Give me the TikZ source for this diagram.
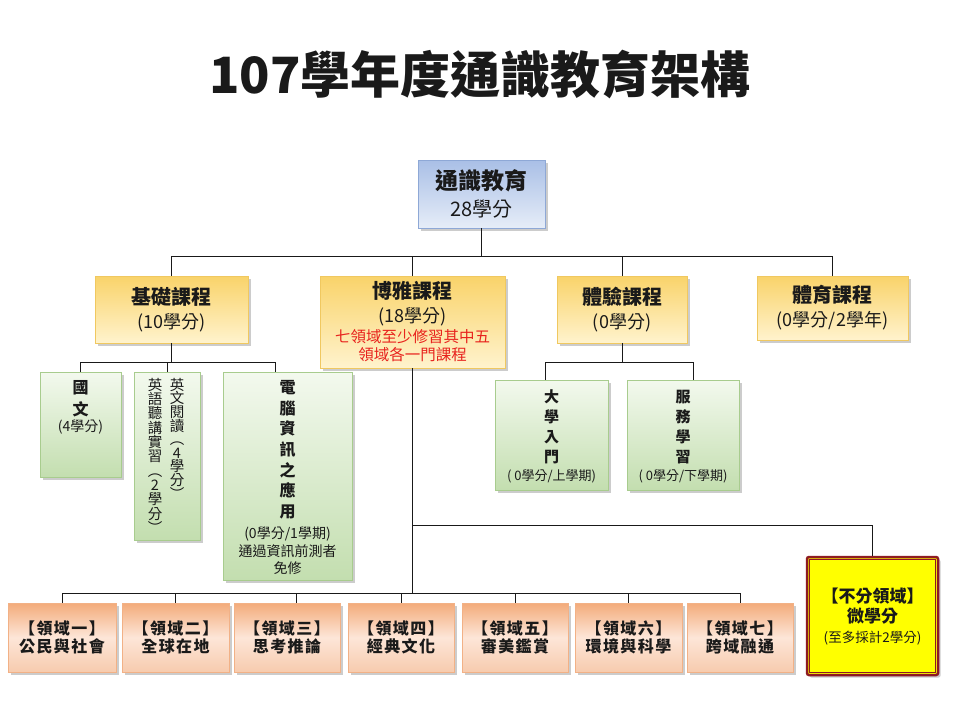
\documentclass[tikz,border=0pt]{standalone}
\usepackage{fontspec}
\setmainfont{Noto Sans CJK TC}
\usetikzlibrary{shadows,calc}
\definecolor{bluetop}{HTML}{A9BFE6}
\definecolor{bluebot}{HTML}{E6EDF8}
\definecolor{blueline}{HTML}{8EA8D6}
\definecolor{yeltop}{HTML}{F9D36A}
\definecolor{yelbot}{HTML}{FFF3CD}
\definecolor{yelline}{HTML}{F0C860}
\definecolor{grntop}{HTML}{F3F9EE}
\definecolor{grnbot}{HTML}{C3DEAF}
\definecolor{grnline}{HTML}{A8CC8E}
\definecolor{orgtop}{HTML}{F3AB7A}
\definecolor{orgmid}{HTML}{FDE6D8}
\definecolor{orgbot}{HTML}{F7CBAE}
\definecolor{orgline}{HTML}{F2B186}
\definecolor{redtxt}{HTML}{E8231E}
\definecolor{wxred}{HTML}{8E1B22}
\definecolor{wxyel}{HTML}{FFFF00}
\definecolor{txt}{HTML}{1A1A1A}
\begin{document}
\begin{tikzpicture}[x=1pt,y=-1pt,
  conn/.style={draw=black!90, line width=0.8pt},
  boxbase/.style={rectangle, inner sep=1pt, line width=0.6pt, align=center, text=txt,
    drop shadow={shadow xshift=2.5pt, shadow yshift=-2.5pt, fill=black!50, opacity=0.4}},
  bluebox/.style={boxbase, draw=blueline, top color=bluetop, bottom color=bluebot},
  yelbox/.style={boxbase, draw=yelline, top color=yeltop, bottom color=yelbot},
  grnbox/.style={boxbase, draw=grnline, top color=grntop, bottom color=grnbot},
  orgbox/.style={boxbase, draw=orgline, top color=orgtop, bottom color=orgbot, middle color=orgmid,
    minimum width=106, minimum height=69, font=\fontsize{16}{18}\selectfont\bfseries\addfontfeature{LetterSpace=9}},
  wxbox/.style={rectangle, rounded corners=2pt, draw=wxred, line width=2.5pt, fill=wxyel, align=center,
    text=txt, drop shadow={shadow xshift=2.5pt, shadow yshift=-2.5pt, fill=black!50, opacity=0.4}},
  vtxt/.style={align=center, inner sep=0pt, anchor=north, text=txt},
  plain/.style={align=center, inner sep=0pt, text=txt}]
\useasboundingbox[fill=white] (0,0) rectangle (960,720);

% title
\node[plain, font=\fontsize{50}{60}\selectfont\bfseries] (title) at (480,75) {107學年度通識教育架構};

% top
\node[bluebox, minimum width=127, minimum height=68, font=\fontsize{20}{27}\selectfont] (top) at (481.5,194)
  {{\fontsize{23}{27}\selectfont\bfseries 通識教育}\\28學分};

% second level
\node[yelbox, minimum width=153, minimum height=67, font=\fontsize{18}{24}\selectfont] (jichu) at (171.5,309.5)
  {{\fontsize{20}{24}\selectfont\bfseries 基礎課程}\\(10學分)};
\node[yelbox, minimum width=185, minimum height=92, font=\fontsize{18}{20}\selectfont] (boya) at (412.5,322)
  {{\fontsize{20}{24}\selectfont\bfseries 博雅課程}\\[4pt](18學分)\\{\color{redtxt}\fontsize{15.5}{18}\selectfont 七領域至少修習其中五}\\[-2pt]{\color{redtxt}\fontsize{15.5}{18}\selectfont 領域各一門課程}};
\node[yelbox, minimum width=130, minimum height=67, font=\fontsize{18}{24}\selectfont] (tiyan) at (622,309.5)
  {{\fontsize{20}{24}\selectfont\bfseries 體驗課程}\\(0學分)};
\node[yelbox, minimum width=151, minimum height=64, font=\fontsize{18}{24}\selectfont] (tiyu) at (832.5,308)
  {{\fontsize{20}{24}\selectfont\bfseries 體育課程}\\(0學分/2學年)};

% basic courses
\node[grnbox, minimum width=81, minimum height=105] (guowen) at (80.5,424.5) {};
\node[vtxt, font=\fontsize{16}{22}\selectfont\bfseries] (guowenT) at (80.5,380) {國\\文};
\node[plain, font=\fontsize{14}{16}\selectfont] (guowenC) at (80.5,427) {(4學分)};

\node[grnbox, minimum width=66, minimum height=168] (yingwen) at (167,456) {};
\node[vtxt, font=\fontsize{14.5}{13.6}\selectfont] (yw1) at (177,378) {英\\文\\閱\\讀\\︵\\4\\學\\分\\︶};
\node[vtxt, font=\fontsize{14.5}{14.3}\selectfont] (yw2) at (155,378) {英\\語\\聽\\講\\實\\習\\︵\\2\\學\\分\\︶};

\node[grnbox, minimum width=129, minimum height=208] (diannao) at (287.5,476) {};
\node[vtxt, font=\fontsize{16}{20.7}\selectfont\bfseries] (dnT) at (287.5,380) {電\\腦\\資\\訊\\之\\應\\用};
\node[plain, font=\fontsize{14}{17.5}\selectfont] (dnC) at (287.5,551) {(0學分/1學期)\\通過資訊前測者\\免修};

% experience courses
\node[grnbox, minimum width=113, minimum height=110] (daxue) at (551.5,435) {};
\node[vtxt, font=\fontsize{15}{20}\selectfont\bfseries] (dxT) at (551.5,389.5) {大\\學\\入\\門};
\node[plain, font=\fontsize{13}{15}\selectfont] (dxC) at (551.5,476) {( 0學分/上學期)};

\node[grnbox, minimum width=112, minimum height=110] (fuwu) at (683,435) {};
\node[vtxt, font=\fontsize{15}{20}\selectfont\bfseries] (fwT) at (683,389.5) {服\\務\\學\\習};
\node[plain, font=\fontsize{13}{15}\selectfont] (fwC) at (683,476) {( 0學分/下學期)};

% domains
\node[orgbox, minimum width=108] (ly1) at (62,637.5) {【領域一】\\公民與社會};
\node[orgbox, minimum width=107] (ly2) at (175.5,637.5) {【領域二】\\全球在地};
\node[orgbox] (ly3) at (287,637.5) {【領域三】\\思考推論};
\node[orgbox] (ly4) at (401,637.5) {【領域四】\\經典文化};
\node[orgbox] (ly5) at (515,637.5) {【領域五】\\審美鑑賞};
\node[orgbox, minimum width=107] (ly6) at (628.5,637.5) {【領域六】\\環境與科學};
\node[orgbox] (ly7) at (740,637.5) {【領域七】\\跨域融通};

\node[wxbox, minimum width=131, minimum height=118, font=\fontsize{17}{20}\selectfont] (weixue) at (872.5,616)
  {{\bfseries 【不分領域】}\\{\bfseries 微學分}\\{\fontsize{13.5}{20}\selectfont (至多採計2學分)}};
\draw[wxred, line width=0.7pt] ([shift={(4,4)}]weixue.north west) rectangle ([shift={(-4,-4)}]weixue.south east);

% connectors
\coordinate (bus1) at (0,256);
\draw[conn] (top.south) -- (top.south |- bus1);
\draw[conn] (jichu.north) |- (bus1 -| tiyu.north) -- (tiyu.north);
\draw[conn] (boya.north) -- (boya.north |- bus1);
\draw[conn] (tiyan.north) -- (tiyan.north |- bus1);

\coordinate (bus2) at (0,362);
\coordinate (dn) at ([xshift=-12pt]diannao.north);
\draw[conn] (jichu.south) -- (jichu.south |- bus2);
\draw[conn] (guowen.north) |- (bus2 -| dn) -- (dn);
\draw[conn] (yingwen.north) -- (yingwen.north |- bus2);

\coordinate (dx) at ([xshift=-6pt]daxue.north);
\coordinate (fw) at ([xshift=10pt]fuwu.north);
\draw[conn] (tiyan.south) -- (tiyan.south |- bus2);
\draw[conn] (dx) |- (bus2 -| fw) -- (fw);

\coordinate (bus4) at (0,593);
\coordinate (l3) at ([xshift=9pt]ly3.north);
\draw[conn] (boya.south) -- (boya.south |- bus4);
\draw[conn] (ly1.north) |- (bus4 -| ly7.north) -- (ly7.north);
\draw[conn] (ly2.north) -- (ly2.north |- bus4);
\draw[conn] (l3) -- (l3 |- bus4);
\draw[conn] (ly4.north) -- (ly4.north |- bus4);
\draw[conn] (ly5.north) -- (ly5.north |- bus4);
\draw[conn] (ly6.north) -- (ly6.north |- bus4);

\coordinate (bus5) at (0,525);
\draw[conn] (boya.south |- bus5) -| (weixue.north);
\end{tikzpicture}
\end{document}
